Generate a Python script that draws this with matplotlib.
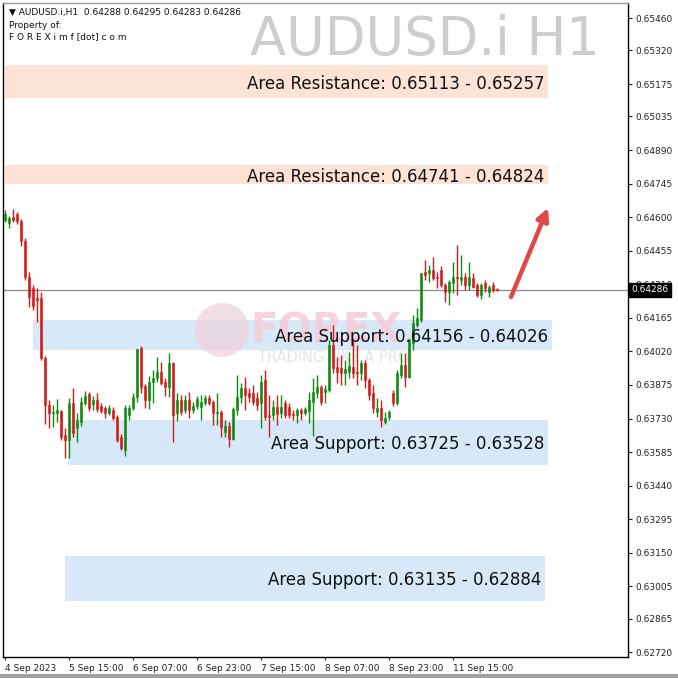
import matplotlib
matplotlib.use("Agg")
import matplotlib.pyplot as plt
import matplotlib.transforms as mtransforms
from matplotlib.patches import Rectangle, Circle
import numpy as np

# ---------------- data ----------------
opens = [0.64588,0.64575,0.64601,0.64614,0.64583,0.64497,0.64341,0.64294,0.64251,0.64251,
         0.63991,0.63788,0.63754,0.63754,0.63762,0.63659,0.63637,0.63797,0.63689,0.63715,
         0.63797,0.63836,0.63793,0.63810,0.63784,0.63775,0.63754,0.63767,0.63737,0.63650,
         0.63594,0.63745,0.63775,0.63823,0.64035,0.63871,0.63810,0.63888,0.63905,0.63931,
         0.63888,0.63866,0.63970,0.63754,0.63810,0.63767,0.63810,0.63767,0.63784,0.63780,
         0.63797,0.63819,0.63801,0.63754,0.63758,0.63672,0.63698,0.63642,0.63767,0.63823,
         0.63862,0.63840,0.63840,0.63819,0.63797,0.63896,0.63745,0.63745,0.63780,0.63754,
         0.63797,0.63780,0.63750,0.63745,0.63767,0.63754,0.63762,0.63801,0.63840,0.63866,
         0.63845,0.63853,0.64048,0.63953,0.63948,0.63927,0.63931,0.63953,0.63931,0.63927,
         0.63970,0.63896,0.63840,0.63758,0.63775,0.63715,0.63737,0.63840,0.63797,0.63918,
         0.63961,0.63909,0.64056,0.64134,0.64156,0.64363,0.64359,0.64372,0.64341,0.64372,
         0.64307,0.64277,0.64315,0.64341,0.64328,0.64341,0.64307,0.64337,0.64307,0.64264,
         0.64315,0.64277,0.64307,0.64288]
highs = [0.64631,0.64605,0.64635,0.64622,0.64592,0.64510,0.64363,0.64307,0.64294,0.64277,
         0.64000,0.63810,0.63788,0.63814,0.63767,0.63689,0.63819,0.63862,0.63754,0.63823,
         0.63849,0.63845,0.63827,0.63840,0.63797,0.63784,0.63788,0.63780,0.63745,0.63663,
         0.63788,0.63788,0.63840,0.64030,0.64043,0.63879,0.63914,0.63940,0.63996,0.63974,
         0.63905,0.64013,0.63974,0.63840,0.63832,0.63832,0.63845,0.63801,0.63827,0.63832,
         0.63832,0.63832,0.63810,0.63840,0.63767,0.63724,0.63715,0.63780,0.63918,0.63883,
         0.63909,0.63862,0.63875,0.63845,0.63918,0.63940,0.63832,0.63810,0.63832,0.63832,
         0.63810,0.63797,0.63767,0.63775,0.63775,0.63780,0.63845,0.63905,0.63918,0.63875,
         0.63875,0.64069,0.64134,0.63996,0.64004,0.63983,0.64017,0.64069,0.64048,0.63983,
         0.63983,0.63905,0.63875,0.63819,0.63810,0.63758,0.63767,0.63853,0.63940,0.64013,
         0.64013,0.64078,0.64177,0.64207,0.64359,0.64415,0.64393,0.64428,0.64363,0.64389,
         0.64315,0.64328,0.64406,0.64480,0.64436,0.64359,0.64406,0.64359,0.64315,0.64315,
         0.64328,0.64307,0.64320,0.64295]
lows = [0.64579,0.64553,0.64579,0.64570,0.64475,0.64328,0.64212,0.64199,0.64147,0.63983,
        0.63706,0.63689,0.63693,0.63715,0.63637,0.63559,0.63559,0.63650,0.63629,0.63698,
        0.63788,0.63762,0.63767,0.63758,0.63754,0.63732,0.63745,0.63724,0.63629,0.63594,
        0.63568,0.63724,0.63767,0.63801,0.63840,0.63775,0.63771,0.63797,0.63888,0.63875,
        0.63827,0.63823,0.63629,0.63719,0.63745,0.63754,0.63732,0.63754,0.63771,0.63724,
        0.63788,0.63788,0.63702,0.63702,0.63650,0.63650,0.63607,0.63637,0.63745,0.63797,
        0.63767,0.63801,0.63788,0.63767,0.63689,0.63724,0.63650,0.63724,0.63702,0.63732,
        0.63732,0.63732,0.63724,0.63711,0.63724,0.63745,0.63711,0.63655,0.63819,0.63788,
        0.63797,0.63845,0.63927,0.63883,0.63875,0.63875,0.63905,0.63905,0.63875,0.63896,
        0.63862,0.63810,0.63754,0.63737,0.63693,0.63706,0.63724,0.63784,0.63788,0.63905,
        0.63866,0.63905,0.64026,0.64125,0.64147,0.64328,0.64320,0.64328,0.64294,0.64298,
        0.64233,0.64220,0.64272,0.64264,0.64307,0.64285,0.64285,0.64294,0.64255,0.64246,
        0.64277,0.64255,0.64277,0.64283]
closes = [0.64614,0.64596,0.64588,0.64583,0.64497,0.64341,0.64255,0.64216,0.64242,0.63991,
          0.63788,0.63754,0.63758,0.63767,0.63650,0.63637,0.63797,0.63667,0.63724,0.63801,
          0.63827,0.63775,0.63810,0.63771,0.63762,0.63754,0.63775,0.63732,0.63637,0.63603,
          0.63775,0.63775,0.63823,0.64030,0.63866,0.63810,0.63888,0.63905,0.63931,0.63883,
          0.63866,0.63970,0.63745,0.63810,0.63758,0.63810,0.63767,0.63784,0.63814,0.63801,
          0.63819,0.63797,0.63754,0.63758,0.63693,0.63698,0.63642,0.63771,0.63823,0.63862,
          0.63832,0.63823,0.63801,0.63788,0.63888,0.63737,0.63737,0.63780,0.63750,0.63780,
          0.63745,0.63745,0.63745,0.63767,0.63754,0.63771,0.63810,0.63845,0.63866,0.63801,
          0.63858,0.64048,0.63948,0.63931,0.63927,0.63944,0.63957,0.63927,0.63927,0.63970,
          0.63896,0.63832,0.63775,0.63775,0.63724,0.63732,0.63758,0.63797,0.63927,0.63961,
          0.63909,0.64069,0.64143,0.64164,0.64359,0.64350,0.64372,0.64337,0.64337,0.64307,
          0.64277,0.64320,0.64341,0.64337,0.64341,0.64307,0.64341,0.64298,0.64264,0.64307,
          0.64294,0.64298,0.64285,0.64286]

x_tick_bars = [0, 16, 32, 48, 64, 80, 96, 112]
x_tick_labels = ["4 Sep 2023", "5 Sep 15:00", "6 Sep 07:00", "6 Sep 23:00",
                 "7 Sep 15:00", "8 Sep 07:00", "8 Sep 23:00", "11 Sep 15:00"]
y_tick_values = [0.65460, 0.65320, 0.65175, 0.65035, 0.64890, 0.64745, 0.64600,
                 0.64455, 0.64310, 0.64165, 0.64020, 0.63875, 0.63730, 0.63585,
                 0.63440, 0.63295, 0.63150, 0.63005, 0.62865, 0.62720]

zone_labels = ["Area Resistance: 0.65113 - 0.65257",
               "Area Resistance: 0.64741 - 0.64824",
               "Area Support: 0.64156 - 0.64026",
               "Area Support: 0.63725 - 0.63528",
               "Area Support: 0.63135 - 0.62884"]
zone_low = [0.65113, 0.64741, 0.64026, 0.63528, 0.62942]
zone_high = [0.65257, 0.64824, 0.64156, 0.63725, 0.63135]
zone_start = [0, 0, 7, 15.75, 15]
zone_end = [135.75, 135.75, 136.75, 135.75, 135]
zone_kind = ["res", "res", "sup", "sup", "sup"]

current_price = 0.64286
arrow_from = (126.5, 0.64255)
arrow_to = (135.75, 0.64640)

header = "\u25BC AUDUSD.i,H1  0.64288 0.64295 0.64283 0.64286"

# ---------------- figure ----------------
W = 678
fig = plt.figure(figsize=(6.78, 6.78), dpi=100)
fig.patch.set_facecolor("white")
ax = fig.add_axes([3 / W, 21 / W, 625 / W, 654 / W])
ax.set_xlim(-0.5, 155.75)
ax.set_ylim(0.62700, 0.65525)

# big symbol title (background)
ax.text(600 / W, 1 - 40 / W, "AUDUSD.i H1", transform=fig.transFigure, ha="right",
        va="center", fontsize=38, color="#cdcdcd", zorder=0.5)

col_res = "#fde3d5"
col_sup = "#d7e8f8"
for lo, hi, x0, x1, kind in zip(zone_low, zone_high, zone_start, zone_end, zone_kind):
    ax.add_patch(Rectangle((x0, lo), x1 - x0, hi - lo,
                           facecolor=col_res if kind == "res" else col_sup,
                           edgecolor="none", zorder=1))

# watermark (inside the axes, beneath candles and labels)
ax.add_patch(Circle((222 / W, 1 - 330 / W), 27 / W, transform=fig.transFigure,
                    facecolor="#f5cfdb", edgecolor="none", alpha=0.7, zorder=1.5))
ax.add_patch(Circle((227 / W, 1 - 323 / W), 19 / W, transform=fig.transFigure,
                    facecolor="#e6e0e3", edgecolor="none", alpha=0.6, zorder=1.6))
ax.text(250 / W, 1 - 331 / W, "FOREX", transform=fig.transFigure, fontsize=29,
        fontweight="bold", color="#f6ccd8", alpha=0.85, ha="left", va="center",
        zorder=1.7)
ax.text(258 / W, 1 - 357 / W, "TRADING LIKE A PRO", transform=fig.transFigure,
        fontsize=10.5, color="#e4e4e4", ha="left", va="center", zorder=1.7)

# current price line
ax.axhline(current_price, color="#8c8c8c", lw=0.9, zorder=2)

# candles
idx = np.arange(len(opens))
o = np.array(opens); h = np.array(highs); l = np.array(lows); c = np.array(closes)
up = c >= o
green = "#118a11"
red = "#d41a1a"
colors = np.where(up, green, red)
ax.vlines(idx, l, h, colors=colors, lw=1.0, zorder=3)
body_bot = np.minimum(o, c)
body_h = np.maximum(np.abs(c - o), 0.000025)
ax.bar(idx, body_h, bottom=body_bot, width=0.72, color=colors, edgecolor=colors,
       linewidth=0.4, zorder=4)

# zone labels
for lab, lo, hi, x1 in zip(zone_labels, zone_low, zone_high, zone_end):
    ax.text(x1 - 0.9, (lo + hi) / 2 - 0.00008, lab, ha="right", va="center",
            fontsize=12, color="#111111", zorder=6)

# arrow
ax.annotate("", xy=arrow_to, xytext=arrow_from,
            arrowprops=dict(arrowstyle="-|>", color="#e04848", lw=3.2,
                            mutation_scale=18, shrinkA=0, shrinkB=0), zorder=6)

# axes styling
for s in ax.spines.values():
    s.set_color("black")
    s.set_linewidth(1.0)
ax.spines["top"].set_color("#9a9a9a")
ax.yaxis.tick_right()
ax.set_yticks(y_tick_values)
ax.set_yticklabels([f"{v:.5f}" for v in y_tick_values])
ax.tick_params(axis="y", direction="out", length=3, width=0.8, pad=2,
               labelsize=6.5, colors="#222222")
ax.set_xticks(x_tick_bars)
ax.set_xticklabels(x_tick_labels)
for t in ax.get_xticklabels():
    t.set_ha("left")
ax.tick_params(axis="x", direction="out", length=2, width=0.8, pad=3,
               labelsize=6.5, colors="#222222")

# current price box on axis
trans = mtransforms.blended_transform_factory(ax.transAxes, ax.transData)
ax.text(1.006, current_price, f"{current_price:.5f}", transform=trans, ha="left",
        va="center", fontsize=6.5, color="white", clip_on=False, zorder=10,
        bbox=dict(boxstyle="square,pad=0.25", fc="black", ec="black"))

# header texts
fig.text(9 / W, 1 - 12 / W, header, ha="left", va="center", fontsize=6.5, color="#111111")
fig.text(9 / W, 1 - 25 / W, "Property of:", ha="left", va="center", fontsize=6.5, color="#111111")
fig.text(9 / W, 1 - 37 / W, "F O R E X i m f [dot] c o m", ha="left", va="center",
         fontsize=6.5, color="#111111")

# window border at bottom
fig.add_artist(plt.Line2D([0, 1], [2.5 / W, 2.5 / W], transform=fig.transFigure,
                          color="#a0a0a0", lw=3))

fig.savefig("out.png", dpi=100, facecolor="white")
